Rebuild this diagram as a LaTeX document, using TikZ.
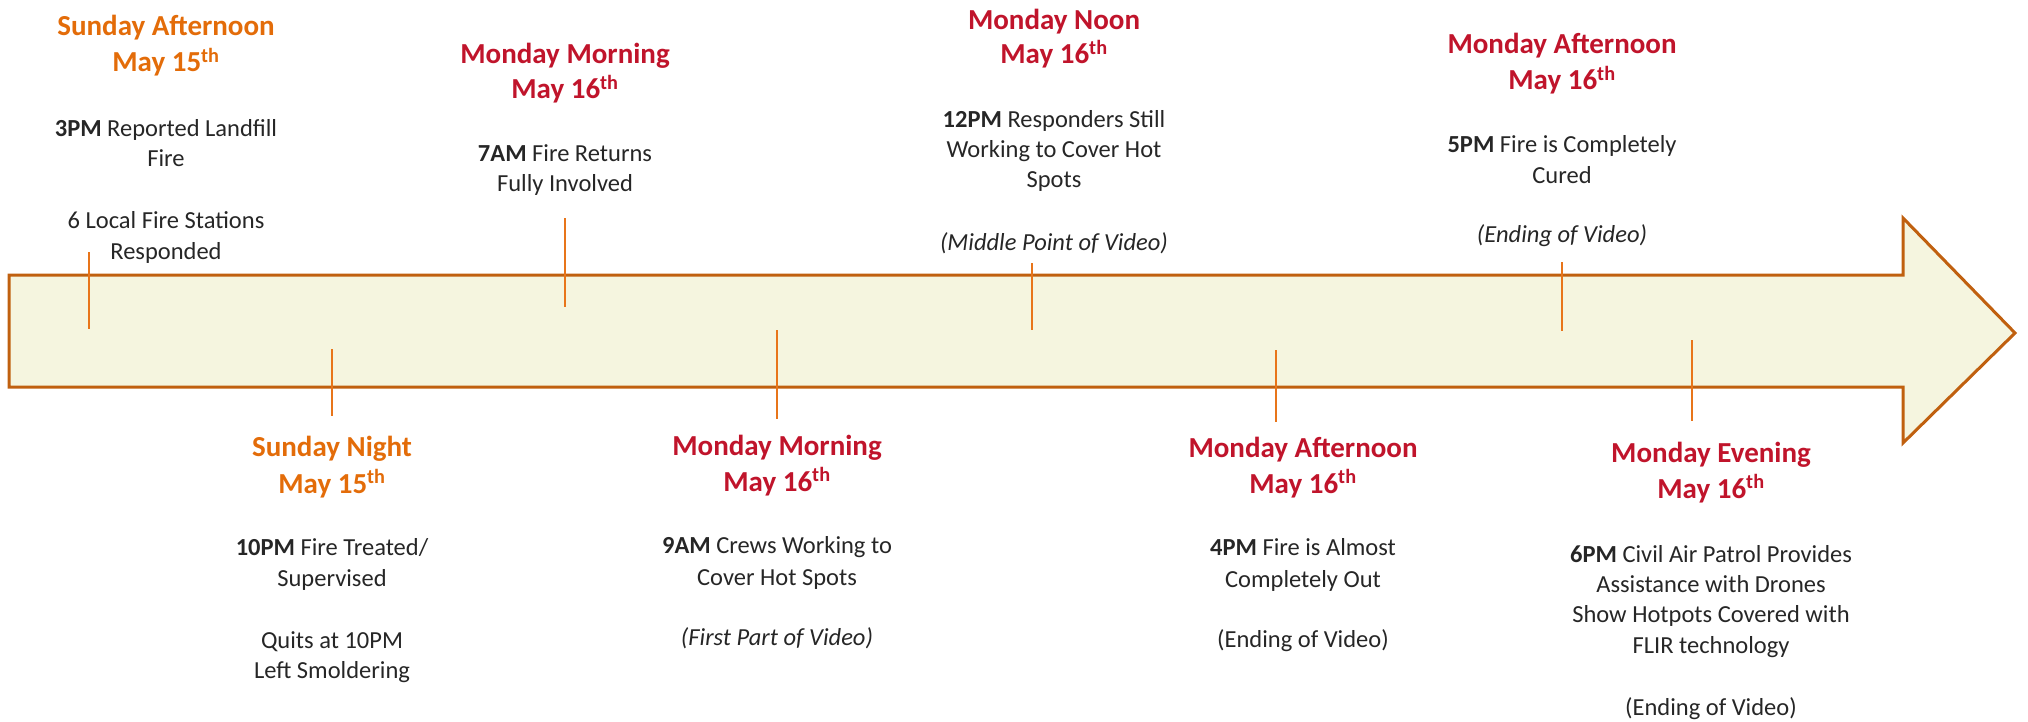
\documentclass[tikz,border=0pt]{standalone}
\usepackage{fontspec}
\setmainfont{Carlito}
\definecolor{hdorange}{HTML}{E36C09}
\definecolor{hdred}{HTML}{C0142B}
\definecolor{txtgray}{HTML}{262626}
\definecolor{arrowedge}{HTML}{C0600F}
\definecolor{arrowfill}{HTML}{F5F5DF}
\definecolor{tickorange}{HTML}{E8751A}
\begin{document}
\begin{tikzpicture}[x=1pt,y=-1pt,
  hd/.style={anchor=base, inner sep=0pt, font=\fontsize{29}{35}\selectfont\bfseries},
  hdo/.style={hd, text=hdorange},
  hdr/.style={hd, text=hdred},
  bd/.style={anchor=base, inner sep=0pt, font=\fontsize{24.5}{30}\selectfont, text=txtgray},
  bdi/.style={bd, font=\fontsize{24.5}{30}\selectfont\itshape},
  tickline/.style={draw=tickorange, line width=2.6pt},
  bigarrow/.style={draw=arrowedge, fill=arrowfill, line width=3pt, line join=miter}
]
\useasboundingbox (0,0) rectangle (2028,722);
% arrow
\draw[bigarrow] (9,275) -- (1903,275) -- (1903,218) -- (2015,333) -- (1903,443) -- (1903,387) -- (9,387) -- cycle;
% ticks
\coordinate (t1a) at (89,252);   \coordinate (t1b) at (89,329);
\coordinate (b1a) at (332,349);  \coordinate (b1b) at (332,416);
\coordinate (t2a) at (565,218);  \coordinate (t2b) at (565,307);
\coordinate (b2a) at (777,330);  \coordinate (b2b) at (777,419);
\coordinate (t3a) at (1032,263); \coordinate (t3b) at (1032,330);
\coordinate (b3a) at (1276,350); \coordinate (b3b) at (1276,422);
\coordinate (t4a) at (1562,262); \coordinate (t4b) at (1562,331);
\coordinate (b4a) at (1692,340); \coordinate (b4b) at (1692,421);
\foreach \p in {t1,b1,t2,b2,t3,b3,t4,b4} \draw[tickline] (\p a) -- (\p b);
% block 1
\node[hdo] (a1) at (166,36) {Sunday Afternoon};
\node[hdo] (a2) at (166,72) {May 15\textsuperscript{th}};
\node[bd] (a3) at (166,137) {\textbf{3PM} Reported Landfill};
\node[bd] (a4) at (166,167) {Fire};
\node[bd] (a5) at (166,229) {6 Local Fire Stations};
\node[bd] (a6) at (166,259) {Responded};
% block 2
\node[hdo] (b1) at (332,456) {Sunday Night};
\node[hdo] (b2) at (332,493) {May 15\textsuperscript{th}};
\node[bd] (b3) at (332,555) {\textbf{10PM} Fire Treated/};
\node[bd] (b4) at (332,586) {Supervised};
\node[bd] (b5) at (332,648) {Quits at 10PM};
\node[bd] (b6) at (332,678) {Left Smoldering};
% block 3
\node[hdr] (c1) at (565,64) {Monday Morning};
\node[hdr] (c2) at (565,99) {May 16\textsuperscript{th}};
\node[bd] (c3) at (565,162) {\textbf{7AM} Fire Returns};
\node[bd] (c4) at (565,192) {Fully Involved};
% block 4
\node[hdr] (d1) at (777,455) {Monday Morning};
\node[hdr] (d2) at (777,491) {May 16\textsuperscript{th}};
\node[bd] (d3) at (777,553) {\textbf{9AM} Crews Working to};
\node[bd] (d4) at (777,585) {Cover Hot Spots};
\node[bdi] (d5) at (777,645) {(First Part of Video)};
% block 5
\node[hdr] (e1) at (1054,30) {Monday Noon};
\node[hdr] (e2) at (1054,64) {May 16\textsuperscript{th}};
\node[bd] (e3) at (1054,128) {\textbf{12PM} Responders Still};
\node[bd] (e4) at (1054,158) {Working to Cover Hot};
\node[bd] (e5) at (1054,188) {Spots};
\node[bdi] (e6) at (1054,250) {(Middle Point of Video)};
% block 6
\node[hdr] (f1) at (1303,457) {Monday Afternoon};
\node[hdr] (f2) at (1303,493) {May 16\textsuperscript{th}};
\node[bd] (f3) at (1303,555) {\textbf{4PM} Fire is Almost};
\node[bd] (f4) at (1303,587) {Completely Out};
\node[bd] (f5) at (1303,647) {(Ending of Video)};
% block 7
\node[hdr] (g1) at (1562,54) {Monday Afternoon};
\node[hdr] (g2) at (1562,90) {May 16\textsuperscript{th}};
\node[bd] (g3) at (1562,153) {\textbf{5PM} Fire is Completely};
\node[bd] (g4) at (1562,184) {Cured};
\node[bdi] (g5) at (1562,242) {(Ending of Video)};
% block 8
\node[hdr] (h1) at (1711,462) {Monday Evening};
\node[hdr] (h2) at (1711,498) {May 16\textsuperscript{th}};
\node[bd] (h3) at (1711,562) {\textbf{6PM} Civil Air Patrol Provides};
\node[bd] (h4) at (1711,592) {Assistance with Drones};
\node[bd] (h5) at (1711,622) {Show Hotpots Covered with};
\node[bd] (h6) at (1711,653) {FLIR technology};
\node[bd] (h7) at (1711,715) {(Ending of Video)};
\end{tikzpicture}
\end{document}
